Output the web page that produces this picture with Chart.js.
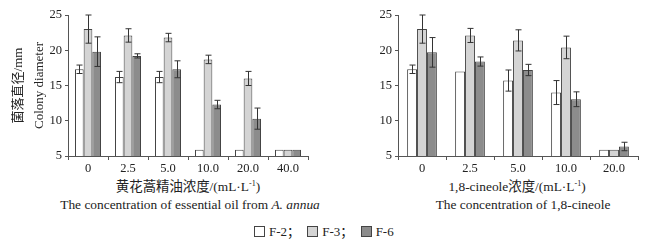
<!DOCTYPE html>
<html>
<head>
<meta charset="utf-8">
<script src="https://cdn.jsdelivr.net/npm/chart.js@4.4.0/dist/chart.umd.min.js"></script>
<style>
  body { margin: 0; background: #fff; }
  #wrap { position: relative; width: 661px; height: 243px; font-family: "Liberation Serif", "Noto Sans CJK SC", serif; color: #222; }
  .box { position: absolute; top: 0; width: 330px; height: 175px; }
  .xt { position: absolute; font-size: 13.4px; white-space: nowrap; transform: translateX(-50%); }
  #legend { position: absolute; top: 221px; left: 254px; font-size: 13px; white-space: nowrap; }
  .sw { display: inline-block; width: 9px; height: 9px; border: 1px solid #444; vertical-align: -1px; margin-right: 4px; }
</style>
</head>
<body>
<div id="wrap">
  <div class="box" style="left:0"><canvas id="oilChart"></canvas></div>
  <div class="box" style="left:330px"><canvas id="cineoleChart"></canvas></div>
  <div class="xt" style="left:188px; top:175px">黄花蒿精油浓度/(mL·L<sup style="font-size:8px">-1</sup>)</div>
  <div class="xt" style="left:190px; top:197px">The concentration of essential oil from <i>A. annua</i></div>
  <div class="xt" style="left:517px; top:175px">1,8-cineole浓度/(mL·L<sup style="font-size:8px">-1</sup>)</div>
  <div class="xt" style="left:523px; top:197px">The concentration of 1,8-cineole</div>
  <div id="legend">
    <span class="sw" style="background:#fff"></span>F-2；
    <span class="sw" style="background:#d4d4d4;margin-left:4px"></span>F-3；
    <span class="sw" style="background:#8c8c8c;margin-left:4px"></span>F-6
  </div>
</div>
<script>
// ---- data: essential oil from A. annua ----
const oilLabels = ["0", "2.5", "5.0", "10.0", "20.0", "40.0"];
const oilF2 = [17.3, 16.2, 16.2, 5.9, 5.9, 5.9];
const oilF3 = [23.0, 22.1, 21.8, 18.7, 16.0, 5.9];
const oilF6 = [19.8, 19.2, 17.3, 12.3, 10.3, 5.9];
const oilF2Err = [0.6, 0.8, 0.8, 0, 0, 0];
const oilF3Err = [2.0, 0.95, 0.6, 0.6, 1.0, 0];
const oilF6Err = [2.1, 0.3, 1.2, 0.6, 1.5, 0];

// ---- data: 1,8-cineole ----
const cinLabels = ["0", "2.5", "5.0", "10.0", "20.0"];
const cinF2 = [17.3, 17.0, 15.7, 14.0, 5.9];
const cinF3 = [23.0, 22.1, 21.4, 20.4, 5.9];
const cinF6 = [19.7, 18.4, 17.2, 13.05, 6.35];
const cinF2Err = [0.6, 0, 1.5, 1.7, 0];
const cinF3Err = [2.0, 1.0, 1.5, 1.6, 0];
const cinF6Err = [2.1, 0.65, 0.8, 1.05, 0.6];

const yTicks = [5, 10, 15, 20, 25];
const seriesNames = ["F-2", "F-3", "F-6"];
const fills = ["#ffffff", "#d4d4d4", "#8c8c8c"];

const serif = "'Liberation Serif', 'Noto Sans CJK SC', serif";

// error bars drawn from the dataset's own err array
const errorBars = {
  id: "errorBars",
  afterDatasetsDraw(chart) {
    const ctx = chart.ctx;
    const y = chart.scales.y;
    ctx.save();
    ctx.strokeStyle = "#333";
    ctx.lineWidth = 1;
    chart.data.datasets.forEach((ds, i) => {
      const meta = chart.getDatasetMeta(i);
      meta.data.forEach((bar, j) => {
        const e = ds.err[j];
        if (!e) return;
        const v = ds.data[j];
        const top = y.getPixelForValue(v + e);
        const bot = y.getPixelForValue(v - e);
        const x = Math.round(bar.x) + 0.5;
        ctx.beginPath();
        ctx.moveTo(x, top); ctx.lineTo(x, bot);
        ctx.moveTo(x - 3, top); ctx.lineTo(x + 3, top);
        ctx.moveTo(x - 3, bot); ctx.lineTo(x + 3, bot);
        ctx.stroke();
      });
    });
    ctx.restore();
  },
};

function makeChart(id, labels, values, errs, catPct, showTitle) {
  return new Chart(document.getElementById(id), {
    type: "bar",
    data: {
      labels: labels,
      datasets: values.map((d, i) => ({
        label: seriesNames[i],
        data: d,
        err: errs[i],
        backgroundColor: fills[i],
        borderColor: "#444",
        borderWidth: 1,
        categoryPercentage: catPct,
        barPercentage: 1,
      })),
    },
    options: {
      responsive: true,
      maintainAspectRatio: false,
      animation: false,
      layout: { padding: { top: 15, right: 22, left: 9, bottom: 0 } },
      plugins: { legend: { display: false }, tooltip: { enabled: false } },
      scales: {
        x: {
          offset: true,
          grid: { offset: true, drawOnChartArea: false, drawTicks: true, tickLength: 4, color: "#555" },
          border: { color: "#555" },
          ticks: { color: "#222", font: { family: serif, size: 12.5 }, padding: 1, maxRotation: 0 },
          afterFit(s) { s.height = 19; },
        },
        y: {
          min: 5,
          max: 25,
          afterBuildTicks(s) { s.ticks = yTicks.map((v) => ({ value: v })); },
          grid: { drawOnChartArea: false, drawTicks: true, tickLength: 3, color: "#555" },
          border: { color: "#555" },
          ticks: { color: "#222", font: { family: serif, size: 12.5 }, padding: 3 },
          title: {
            display: showTitle,
            text: ["菌落直径/mm", "Colony diameter"],
            color: "#222",
            font: { family: serif, size: 13, lineHeight: 1.55 },
            padding: { top: 0, bottom: 2 },
          },
          afterFit(s) { s.width = 59; },
        },
      },
    },
    plugins: [errorBars],
  });
}

makeChart("oilChart", oilLabels, [oilF2, oilF3, oilF6], [oilF2Err, oilF3Err, oilF6Err], 0.65, true);
makeChart("cineoleChart", cinLabels, [cinF2, cinF3, cinF6], [cinF2Err, cinF3Err, cinF6Err], 0.62, false);
</script>
</body>
</html>
